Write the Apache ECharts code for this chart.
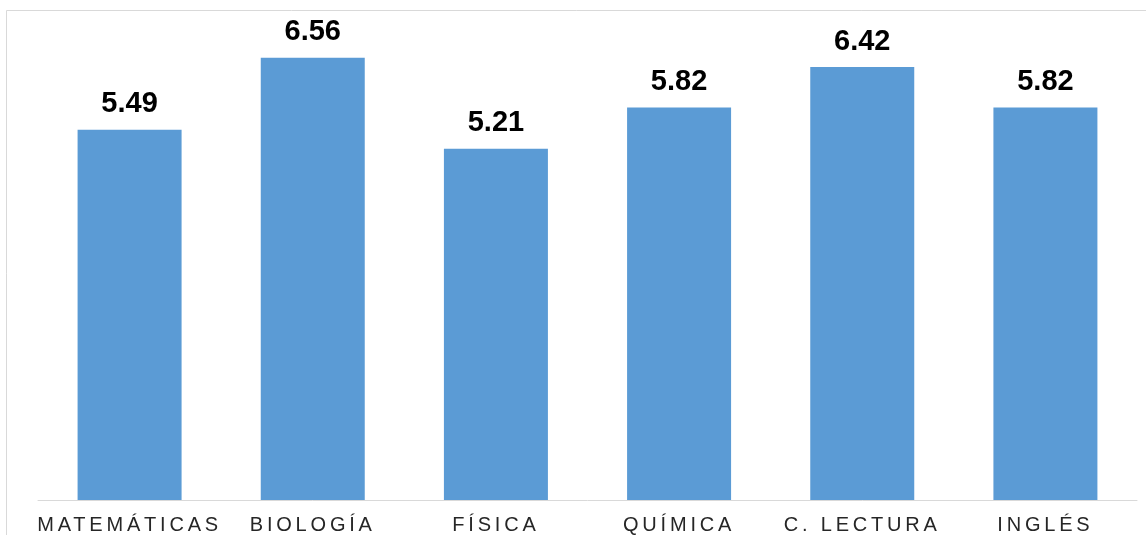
<!DOCTYPE html>
<html>
<head>
<meta charset="utf-8">
<style>
  html, body { margin: 0; padding: 0; background: #fff; }
  #chart { width: 1146px; height: 535px; }
</style>
<script src="https://cdn.jsdelivr.net/npm/echarts@6/dist/echarts.min.js"></script>
</head>
<body>
<div id="chart"></div>
<script>
// categories and averages
const subjects = ['MATEMÁTICAS', 'BIOLOGÍA', 'FÍSICA', 'QUÍMICA', 'C. LECTURA', 'INGLÉS']
const averages = [5.49, 6.56, 5.21, 5.82, 6.42, 5.82]

// the axis labels are letter-spaced in the original; canvas supports that natively
const baseFillText = CanvasRenderingContext2D.prototype.fillText
CanvasRenderingContext2D.prototype.fillText = function () {
  this.letterSpacing = this.font.indexOf('20px') >= 0 ? '3.8px' : '0px'
  return baseFillText.apply(this, arguments)
}

const chart = echarts.init(document.getElementById('chart'))

const option = {
  backgroundColor: '#fff',
  animation: false,
  graphic: [
    {
      type: 'rect',
      shape: { x: 6.5, y: 10.5, width: 1400, height: 700 },
      style: { fill: 'none', stroke: '#d9d9d9', lineWidth: 1 },
      silent: true
    }
  ],
  grid: { left: 38, right: 9, top: 28, bottom: 35 },
  xAxis: {
    type: 'category',
    data: subjects,
    axisLine: { lineStyle: { color: '#d9d9d9', width: 1 } },
    axisTick: { show: false },
    axisLabel: {
      interval: 0,
      margin: 15,
      color: '#262626',
      fontFamily: 'Liberation Sans, Arial, sans-serif',
      fontSize: 20
    }
  },
  yAxis: {
    type: 'value',
    min: 0,
    max: 7,
    show: false,
    splitLine: { show: false }
  },
  series: [
    {
      type: 'bar',
      data: averages,
      barWidth: 104,
      itemStyle: { color: '#5b9bd5' },
      label: {
        show: true,
        position: 'top',
        distance: 11,
        color: '#000',
        fontWeight: 'bold',
        fontSize: 29,
        fontFamily: 'Liberation Sans, Arial, sans-serif',
        formatter: p => p.value.toFixed(2)
      }
    }
  ]
}

chart.setOption(option)
</script>
</body>
</html>
